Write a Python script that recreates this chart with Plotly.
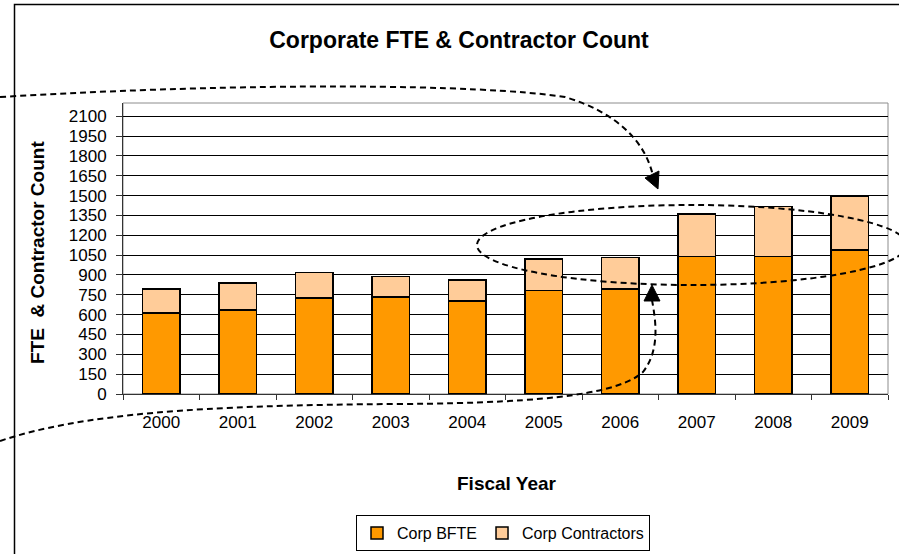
import plotly.graph_objects as go

years = ["2000", "2001", "2002", "2003", "2004", "2005", "2006", "2007", "2008", "2009"]
corp_bfte = [611, 634, 724, 734, 704, 782, 795, 1041, 1041, 1089]
corp_contractors = [181, 206, 194, 154, 158, 237, 236, 320, 375, 407]
y_ticks = list(range(0, 2101, 150))

W, H = 899, 554
ML, MR, MT, MB = 123, 11, 103, 160
PW, PH = W - ML - MR, H - MT - MB


def px(x):
    return (x - ML) / PW


def py(y):
    return (H - MB - y) / PH


def path(points, cmds):
    s = ""
    for c, pts in zip(cmds, points):
        s += c + " " + " ".join(f"{px(a):.5f},{py(b):.5f}" for a, b in pts) + " "
    return s.strip()


FONT = "Liberation Sans, Arial, sans-serif"

fig = go.Figure()
fig.add_trace(go.Bar(x=years, y=corp_bfte, name="Corp BFTE",
                     marker=dict(color="#FF9900", line=dict(color="#000000", width=1.5))))
fig.add_trace(go.Bar(x=years, y=corp_contractors, name="Corp Contractors",
                     marker=dict(color="#FFCC99", line=dict(color="#000000", width=1.5))))

dash = dict(color="#000000", width=2, dash="6px,4px")
shapes = [
    # outer chart border (left and top visible)
    dict(type="rect", xref="paper", yref="paper", x0=px(14.5), x1=px(910), y0=py(4.5), y1=py(600),
         line=dict(color="#000000", width=1.5), layer="below"),
    # plot area border
    dict(type="rect", xref="paper", yref="paper", x0=0, x1=1, y0=0, y1=1,
         line=dict(color="#8c8c8c", width=1), layer="below"),
    # top dashed curve
    dict(type="path", xref="paper", yref="paper",
         path=path([[(0, 97)], [(250, 82), (480, 84), (565, 97)], [(615, 112), (645, 140), (653, 176)]],
                   ["M", "C", "C"]), line=dash),
    dict(type="path", xref="paper", yref="paper",
         path=path([[(645, 178)], [(659, 171)], [(658, 189)]], ["M", "L", "L"]) + " Z",
         fillcolor="#000000", line=dict(color="#000000", width=1)),
    # bottom dashed curve
    dict(type="path", xref="paper", yref="paper",
         path=path([[(0, 441)], [(80, 414), (200, 405), (400, 404)], [(560, 403), (620, 392), (643, 372)],
                    [(660, 350), (656, 322), (652, 300)]], ["M", "C", "C", "C"]), line=dash),
    dict(type="path", xref="paper", yref="paper",
         path=path([[(644, 301)], [(660, 301)], [(652, 285)]], ["M", "L", "L"]) + " Z",
         fillcolor="#000000", line=dict(color="#000000", width=1)),
    # dashed ellipse
    dict(type="circle", xref="paper", yref="paper", x0=px(477), x1=px(907), y0=py(285), y1=py(205),
         line=dash),
]

annotations = [
    dict(text="<b>FTE  & Contractor Count</b>", xref="paper", yref="paper", x=px(38), y=py(253),
         xanchor="center", yanchor="middle",
         textangle=-90, showarrow=False, font=dict(size=19, color="#000000", family=FONT)),
    dict(text="<b>Fiscal Year</b>", xref="paper", yref="paper", x=px(507), y=py(483),
         xanchor="center", yanchor="middle",
         showarrow=False, font=dict(size=19, color="#000000", family=FONT)),
]

fig.update_layout(
    width=W, height=H,
    margin=dict(l=ML, r=MR, t=MT, b=MB, pad=0, autoexpand=False),
    paper_bgcolor="#ffffff", plot_bgcolor="#ffffff",
    barmode="stack", bargap=0.51,
    font=dict(family=FONT, color="#000000", size=17),
    title=dict(text="<b>Corporate FTE & Contractor Count</b>", x=px(459), xref="paper", xanchor="center",
               y=1 - 40 / H, yref="container", yanchor="middle",
               font=dict(size=23, color="#000000", family=FONT)),
    xaxis=dict(type="category", showgrid=False, ticks="outside", ticklen=5, tickcolor="#333333",
               tickson="boundaries", showline=True, linecolor="#333333", linewidth=1,
               tickfont=dict(size=17), ticklabelstandoff=13, automargin=False),
    yaxis=dict(range=[0, 2200], tickvals=y_ticks, showgrid=True, gridcolor="#000000", gridwidth=1,
               ticks="outside", ticklen=6, tickcolor="#333333", showline=True, linecolor="#333333",
               linewidth=1, zeroline=False, tickfont=dict(size=17), ticklabelstandoff=6, automargin=False),
    legend=dict(orientation="h", x=px(503), xanchor="center", y=py(551), yanchor="bottom",
                bordercolor="#000000", borderwidth=1, bgcolor="#ffffff",
                font=dict(size=16), traceorder="normal"),
    shapes=shapes,
    annotations=annotations,
)

fig.write_html("out.html", config={"displayModeBar": False},
               post_script="document.body.style.margin='0';")
